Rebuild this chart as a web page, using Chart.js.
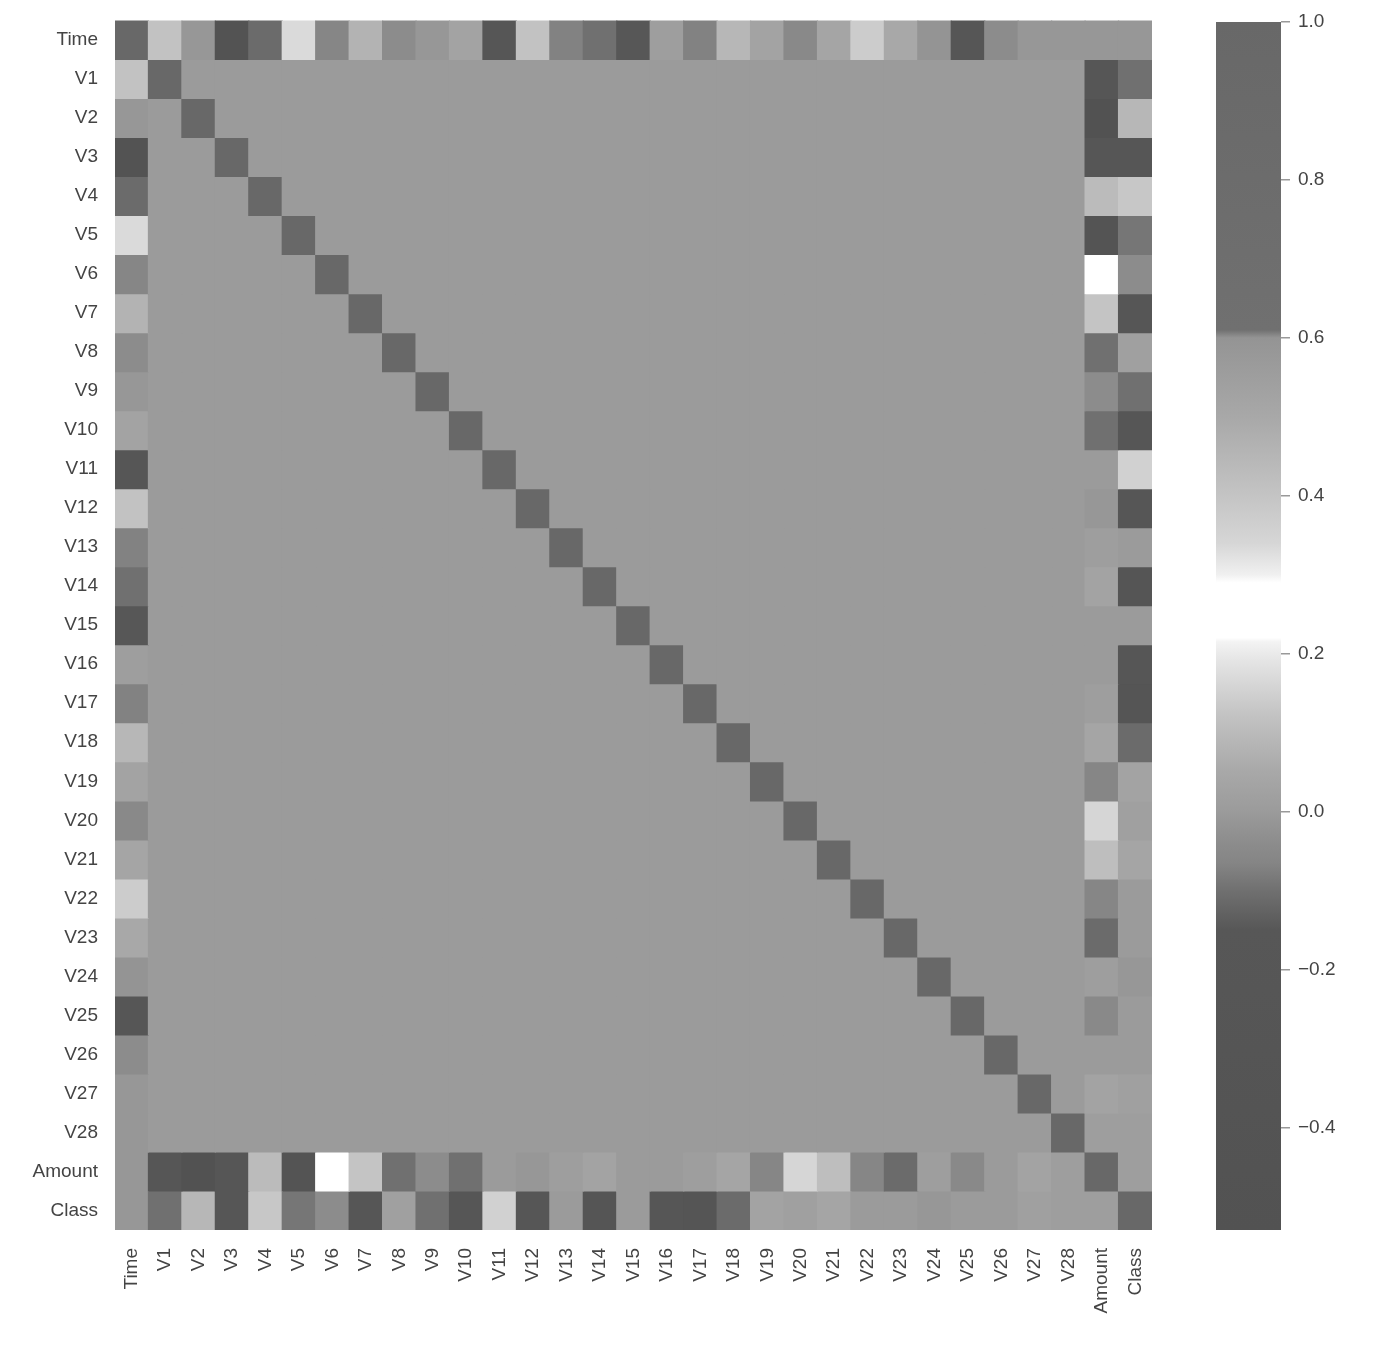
<!DOCTYPE html>
<html>
<head>
<meta charset="utf-8">
<script src="https://cdn.jsdelivr.net/npm/chart.js@4.4.1/dist/chart.umd.min.js"></script>
<style>
  html, body { margin: 0; padding: 0; background: #fff; }
  #wrap { position: relative; width: 1400px; height: 1348px; }
  #heat { position: absolute; left: 0; top: 0; }
  #cbar { position: absolute; left: 1190px; top: 0; }
</style>
</head>
<body>
<div id="wrap">
  <canvas id="heat" width="1190" height="1348"></canvas>
  <canvas id="cbar" width="210" height="1348"></canvas>
</div>
<script>
// ── Variables (rows = columns) ──────────────────────────────────────────
const LABELS = ["Time",
  "V1","V2","V3","V4","V5","V6","V7","V8","V9","V10",
  "V11","V12","V13","V14","V15","V16","V17","V18","V19","V20",
  "V21","V22","V23","V24","V25","V26","V27","V28",
  "Amount","Class"]

// Correlaciones (las V entre sí ≈ 0)
const TIME_CORR = [1.00,
  0.12,-0.01,-0.42,-0.11, 0.17,-0.06, 0.08,-0.04,-0.01, 0.03,
 -0.25, 0.12,-0.07,-0.10,-0.18, 0.01,-0.07, 0.09, 0.03,-0.05,
  0.04, 0.14, 0.05,-0.02,-0.23,-0.04,-0.01,-0.01,
 -0.01,-0.01]

const AMOUNT_CORR = [-0.01,
 -0.23,-0.53,-0.21, 0.10,-0.39, 0.22, 0.40,-0.10,-0.04,-0.10,
  0.00,-0.01, 0.01, 0.03, 0.00, 0.00, 0.01, 0.04,-0.06, 0.34,
  0.11,-0.06,-0.11, 0.01,-0.05, 0.00, 0.03, 0.01,
  1.00, 0.01]

const CLASS_CORR = [-0.01,
 -0.10, 0.09,-0.19, 0.13,-0.09,-0.04,-0.19, 0.02,-0.10,-0.22,
  0.15,-0.26, 0.00,-0.30, 0.00,-0.20,-0.33,-0.11, 0.03, 0.02,
  0.04, 0.00, 0.00,-0.01, 0.00, 0.00, 0.02, 0.01,
  0.01, 1.00]

const CB_TICKS = [-0.4, -0.2, 0.0, 0.2, 0.4, 0.6, 0.8, 1.0]
const V_MIN = -0.53
const V_MAX = 1.0

const CMAP_STOPS = [-0.53, -0.15, -0.10, -0.065, -0.04, 0.0, 0.05, 0.12, 0.19, 0.215, 0.22, 0.29, 0.30, 0.34, 0.40, 0.50, 0.60, 0.61, 1.0]
const CMAP_GRAY  = [ 0x52,  0x57,  0x70,  0x85,  0x8c, 0x9b, 0xa8, 0xc2, 0xe4, 0xf3, 0xff, 0xff, 0xf0, 0xd6, 0xc4, 0xa8, 0x94, 0x70, 0x68]

function grayFor(v) {
  let g
  if (v <= CMAP_STOPS[0]) g = CMAP_GRAY[0]
  else if (v >= CMAP_STOPS[CMAP_STOPS.length - 1]) g = CMAP_GRAY[CMAP_GRAY.length - 1]
  else {
    for (let k = 0; k < CMAP_STOPS.length - 1; k++) {
      const a = CMAP_STOPS[k], b = CMAP_STOPS[k + 1]
      if (v >= a && v <= b) {
        const t = (v - a) / (b - a)
        g = CMAP_GRAY[k] + t * (CMAP_GRAY[k + 1] - CMAP_GRAY[k])
        break
      }
    }
  }
  g = Math.round(g)
  return `rgb(${g},${g},${g})`
}

// ── Matriz completa ─────────────────────────────────────────────────────
const N = LABELS.length
const iTime = 0, iAmount = N - 2, iClass = N - 1
function corr(i, j) {
  if (i === j) return 1
  if (i === iTime) return TIME_CORR[j]
  if (i === iAmount) return AMOUNT_CORR[j]
  if (i === iClass) return CLASS_CORR[j]
  if (j === iTime) return TIME_CORR[i]
  if (j === iAmount) return AMOUNT_CORR[i]
  if (j === iClass) return CLASS_CORR[i]
  return 0
}

const FONT = { family: "'Liberation Sans', Arial, sans-serif", size: 19 }
const TEXT = "#444"

// Cada fila es un dataset apilado de altura 1
const datasets = LABELS.map((row, i) => ({
  label: row,
  data: LABELS.map(() => 1),
  backgroundColor: LABELS.map((col, j) => grayFor(corr(i, j))),
  borderWidth: 0,
  inflateAmount: 0.6,
  categoryPercentage: 1,
  barPercentage: 1,
  stack: "m"
}))

new Chart(document.getElementById("heat"), {
  type: "bar",
  data: { labels: LABELS, datasets },
  options: {
    responsive: false,
    animation: false,
    layout: { padding: { left: 0, top: 16, right: 38, bottom: 0 } },
    plugins: { legend: { display: false }, tooltip: { enabled: false } },
    scales: {
      x: {
        stacked: true,
        grid: { display: false },
        border: { display: false },
        ticks: {
          autoSkip: false, maxRotation: 90, minRotation: 90,
          padding: 10, color: TEXT, font: FONT
        },
        afterFit: s => { s.height = 118 }
      },
      y: {
        stacked: true,
        reverse: true,
        min: 0, max: N,
        grid: { display: false },
        border: { display: false },
        afterBuildTicks: s => { s.ticks = LABELS.map((l, i) => ({ value: i + 0.5 })) },
        ticks: {
          padding: 9, color: TEXT, font: FONT,
          callback: (v, idx) => LABELS[idx]
        },
        afterFit: s => { s.width = 115 }
      }
    }
  }
})

// ── Barra de color ──────────────────────────────────────────────────────
const gradientBar = {
  id: "gradientBar",
  beforeDatasetsDraw(chart) {
    const { ctx, chartArea: a, scales: { y } } = chart
    const top = y.getPixelForValue(V_MAX), bottom = y.getPixelForValue(V_MIN)
    const grad = ctx.createLinearGradient(0, bottom, 0, top)
    CMAP_STOPS.forEach(v => {
      const t = (v - V_MIN) / (V_MAX - V_MIN)
      grad.addColorStop(Math.min(1, Math.max(0, t)), grayFor(v))
    })
    ctx.save()
    ctx.fillStyle = grad
    ctx.fillRect(a.left, top, a.right - a.left, bottom - top)
    ctx.restore()
  }
}

new Chart(document.getElementById("cbar"), {
  type: "scatter",
  data: { datasets: [{ data: [] }] },
  options: {
    responsive: false,
    animation: false,
    layout: { padding: { left: 26, top: 22, right: 0, bottom: 118 } },
    plugins: { legend: { display: false }, tooltip: { enabled: false } },
    scales: {
      x: { display: false, min: 0, max: 1 },
      y: {
        position: "right",
        min: V_MIN, max: V_MAX,
        grid: { drawOnChartArea: false, drawTicks: true, tickLength: 9, color: "#999", lineWidth: 1.5 },
        border: { display: false },
        afterBuildTicks: s => { s.ticks = CB_TICKS.map(v => ({ value: v })) },
        ticks: {
          padding: 8, color: TEXT, font: FONT,
          callback: v => v.toFixed(1).replace("-", "\u2212")
        },
        afterFit: s => { s.width = 119 }
      }
    }
  },
  plugins: [gradientBar]
})
</script>
</body>
</html>
